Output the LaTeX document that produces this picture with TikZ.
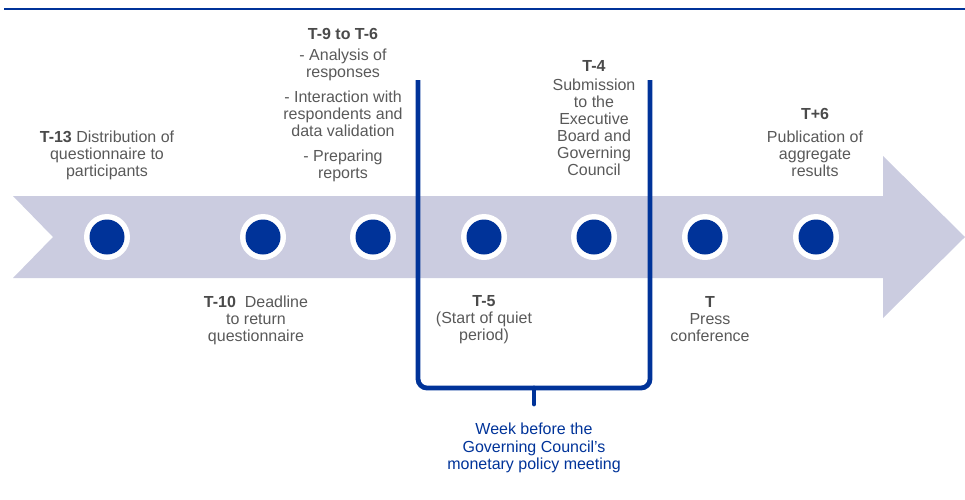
\documentclass[tikz,border=0pt]{standalone}
\usepackage{fontspec}
\setmainfont{Liberation Sans}
\definecolor{ecbblue}{HTML}{003399}
\definecolor{arrowfill}{HTML}{CBCCE0}
\definecolor{txtgrey}{HTML}{595959}
\definecolor{lblgrey}{HTML}{4A4A4A}
\begin{document}
\begin{tikzpicture}[x=1pt,y=-1pt,
  lbl/.style={align=center,text=txtgrey,font=\fontsize{16}{17}\selectfont,inner sep=0pt},
  bluelbl/.style={align=center,text=ecbblue,font=\fontsize{16}{17.5}\selectfont,inner sep=0pt},
  ring/.style={circle,fill=white,minimum size=46pt,inner sep=0pt},
  dotb/.style={circle,fill=ecbblue,minimum size=35pt,inner sep=0pt},
  brk/.style={draw=ecbblue,line width=4.8pt,rounded corners=9pt}]
\newcommand{\hl}[1]{\textcolor{lblgrey}{\textbf{#1}}}
\useasboundingbox (0,0) rectangle (965,499);
% top rule
\draw[ecbblue,line width=2pt] (4,9) -- (965,9);
% timeline arrow
\fill[arrowfill] (13,196) -- (883,196) -- (883,156) -- (965,237) -- (883,318) -- (883,278) -- (13,278) -- (53,237) -- cycle;
% bracket
\coordinate (bl) at (418,80);
\coordinate (br) at (650,80);
\coordinate (bm) at (534,388);
\coordinate (bt) at (534,404);
\draw[brk] (bl) -- (418,388) -- (650,388) -- (br);
\draw[ecbblue,line width=4.8pt,line cap=round] (bm) -- (bt);
% dots
\foreach \i/\x in {1/107,2/263,3/373,4/484,5/594,6/705,7/816}{
  \node[ring] (r\i) at (\x,237) {};
  \node[dotb] (d\i) at (\x,237) {};
}
% labels
\node[lbl] (l1) at (107,155) {\hl{T-13} Distribution of\\questionnaire to\\participants};
\node[lbl] (l2) at (256,320.5) {\hl{T-10}\ \ Deadline\\to return\\questionnaire};
\node[lbl] (l3) at (343,105) {\hl{T-9 to T-6}\\[4pt]- Analysis of\\responses\\[8pt]- Interaction with\\respondents and\\data validation\\[8pt]- Preparing\\reports};
\node[lbl] (l4) at (484,319.5) {\hl{T-5}\\(Start of quiet\\period)};
\node[lbl] (l5) at (594,118) {\hl{T-4}\\[2pt]Submission\\to the\\Executive\\Board and\\Governing\\Council};
\node[lbl] (l6) at (710,319.5) {\hl{T}\\Press\\conference};
\node[lbl] (l7) at (815,142) {\hl{T+6}\\[6pt]Publication of\\aggregate\\results};
\node[bluelbl] (lw) at (534,448) {Week before the\\Governing Council’s\\monetary policy meeting};
\end{tikzpicture}
\end{document}
